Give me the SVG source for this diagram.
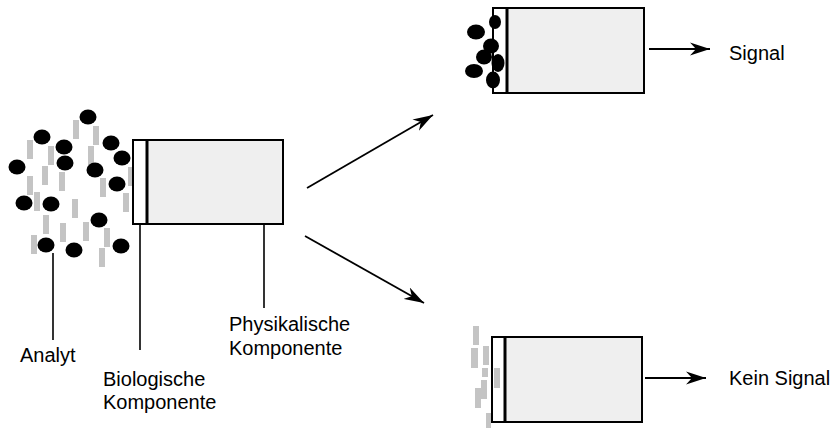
<svg xmlns="http://www.w3.org/2000/svg" width="835" height="428" viewBox="0 0 835 428">
<defs>
<style>
.bio{fill:#ffffff;stroke:#000;stroke-width:2}
.phys{fill:#efefef;stroke:#000;stroke-width:2}
.sep{stroke:#000;stroke-width:3}
.mol{fill:#000}
.ana{fill:#c4c4c4}
.lead{stroke:#000;stroke-width:1.6;fill:none}
.arr{stroke:#000;stroke-width:1.8;fill:none;marker-end:url(#ah)}
text{font-family:"Liberation Sans",Arial,sans-serif;font-size:20px;fill:#000}
</style>
<marker id="ah" markerUnits="userSpaceOnUse" markerWidth="22" markerHeight="14" refX="20" refY="7" orient="auto">
<path d="M0,0.5 L20,7 L0,13.5 L6,7 z" fill="#000"/>
</marker>
</defs>

<g id="analyte-mix">
<rect class="ana" x="73" y="120" width="6" height="19"/>
<rect class="ana" x="93" y="126" width="6" height="19"/>
<rect class="ana" x="27" y="140" width="6" height="19"/>
<rect class="ana" x="48" y="146" width="6" height="19"/>
<rect class="ana" x="88" y="146" width="6" height="19"/>
<rect class="ana" x="42" y="166" width="6" height="19"/>
<rect class="ana" x="59" y="172" width="6" height="19"/>
<rect class="ana" x="128" y="167" width="6" height="19"/>
<rect class="ana" x="27" y="176" width="6" height="19"/>
<rect class="ana" x="100" y="178" width="6" height="19"/>
<rect class="ana" x="34" y="192" width="6" height="19"/>
<rect class="ana" x="123" y="193" width="6" height="19"/>
<rect class="ana" x="72" y="199" width="6" height="19"/>
<rect class="ana" x="43" y="215" width="6" height="19"/>
<rect class="ana" x="60" y="223" width="6" height="19"/>
<rect class="ana" x="83" y="222" width="6" height="19"/>
<rect class="ana" x="104" y="228" width="6" height="19"/>
<rect class="ana" x="31" y="235" width="6" height="19"/>
<rect class="ana" x="99" y="248" width="6" height="19"/>
<ellipse class="mol" cx="88" cy="117" rx="8.5" ry="7.5"/>
<ellipse class="mol" cx="42" cy="137" rx="8.5" ry="7.5"/>
<ellipse class="mol" cx="64" cy="147" rx="8.5" ry="7.5"/>
<ellipse class="mol" cx="111" cy="143" rx="8.5" ry="7.5"/>
<ellipse class="mol" cx="122" cy="158" rx="8.5" ry="7.5"/>
<ellipse class="mol" cx="17" cy="167" rx="8.5" ry="7.5"/>
<ellipse class="mol" cx="65" cy="163" rx="8.5" ry="7.5"/>
<ellipse class="mol" cx="95" cy="170" rx="8.5" ry="7.5"/>
<ellipse class="mol" cx="117" cy="184" rx="8.5" ry="7.5"/>
<ellipse class="mol" cx="24" cy="203" rx="8.5" ry="7.5"/>
<ellipse class="mol" cx="51" cy="204" rx="8.5" ry="7.5"/>
<ellipse class="mol" cx="99" cy="220" rx="8.5" ry="7.5"/>
<ellipse class="mol" cx="46" cy="245" rx="8.5" ry="7.5"/>
<ellipse class="mol" cx="74" cy="250" rx="8.5" ry="7.5"/>
<ellipse class="mol" cx="121" cy="246" rx="8.5" ry="7.5"/>
</g>

<g id="sensor-main">
<rect class="bio" x="133" y="140" width="14" height="84"/>
<rect class="phys" x="147" y="140" width="136" height="84"/>
<line class="sep" x1="147" y1="140" x2="147" y2="224"/>
</g>

<g id="sensor-signal">
<rect class="bio" x="493" y="8" width="14" height="85"/>
<rect class="phys" x="507" y="8" width="137" height="85"/>
<line class="sep" x1="507" y1="8" x2="507" y2="93"/>
<ellipse class="mol" cx="495" cy="22" rx="6" ry="7"/>
<ellipse class="mol" cx="476" cy="32" rx="9" ry="7.5"/>
<ellipse class="mol" cx="491" cy="46" rx="8" ry="7.5"/>
<ellipse class="mol" cx="484" cy="57" rx="8" ry="7.5"/>
<ellipse class="mol" cx="498" cy="63" rx="6.5" ry="9"/>
<ellipse class="mol" cx="474" cy="71" rx="9" ry="7"/>
<ellipse class="mol" cx="493" cy="80" rx="7" ry="8.5"/>
</g>

<g id="sensor-nosignal">
<rect class="bio" x="492" y="337" width="13" height="85"/>
<rect class="phys" x="505" y="337" width="137" height="85"/>
<line class="sep" x1="505" y1="337" x2="505" y2="422"/>
<rect class="ana" x="473" y="326" width="6" height="19"/>
<rect class="ana" x="471" y="348" width="7" height="20"/>
<rect class="ana" x="483" y="346" width="6" height="19"/>
<rect class="ana" x="482" y="368" width="6" height="9"/>
<rect class="ana" x="494" y="368" width="6" height="20"/>
<rect class="ana" x="481" y="380" width="6" height="19"/>
<rect class="ana" x="475" y="388" width="6" height="20"/>
<rect class="ana" x="486" y="413" width="5" height="15"/>
</g>

<g id="connectors">
<line class="arr" x1="307" y1="188" x2="433" y2="115"/>
<line class="arr" x1="305" y1="236" x2="424" y2="303"/>
<line class="arr" x1="649" y1="49" x2="710" y2="49"/>
<line class="arr" x1="645" y1="378" x2="706" y2="378"/>
<line class="lead" x1="53" y1="253" x2="53" y2="340"/>
<line class="lead" x1="140" y1="224" x2="140" y2="350"/>
<line class="lead" x1="264" y1="224" x2="264" y2="308"/>
</g>

<g id="labels">
<text x="20" y="362">Analyt</text>
<text x="103" y="386">Biologische</text>
<text x="103" y="409">Komponente</text>
<text x="229" y="331">Physikalische</text>
<text x="229" y="355">Komponente</text>
<text x="729" y="60">Signal</text>
<text x="729" y="385">Kein Signal</text>
</g>
</svg>
